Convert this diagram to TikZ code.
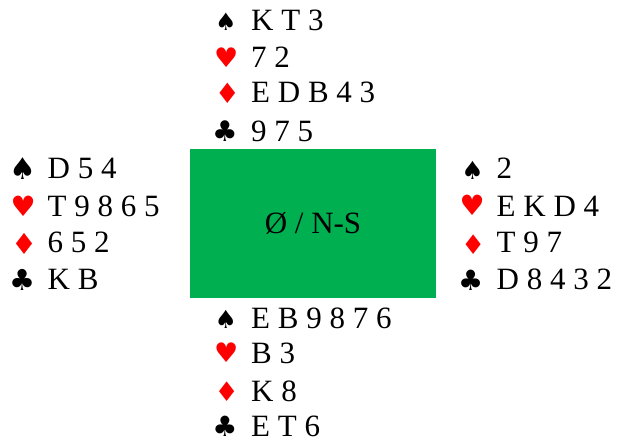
\documentclass[tikz,border=0pt]{standalone}
\usepackage{fontspec}
\setmainfont{Liberation Serif}
\newfontfamily\suitfont{DejaVu Sans}
\definecolor{boardgreen}{HTML}{00B050}
\definecolor{suitred}{HTML}{FF0000}
\newcommand\cardfont{\fontsize{31bp}{36bp}\selectfont}
\tikzset{
  board/.style={fill=boardgreen, minimum width=246bp, minimum height=149bp, inner sep=0pt, font=\cardfont},
  cards/.style={anchor=base west, inner sep=0pt, font=\cardfont},
  suit/.style={inner sep=0pt, font=\suitfont\fontsize{#1}{#1}\selectfont},
  blk/.style={suit=#1, text=black},
  rd/.style={suit=#1, text=suitred},
}
\begin{document}
\begin{tikzpicture}[x=1bp,y=-1bp]
\useasboundingbox (0,0) rectangle (617,441);
\node[board] (board) at (313,223.5) {Ø / N-S};
% North
\node[blk=24bp] (ns) at (226,21.7) {♠};
\node[rd=27bp]  (nh) at (226.3,58) {♥};
\node[rd=28bp]  (nd) at (227.5,93.3) {♦};
\node[blk=28.5bp] (nc) at (225.3,131) {♣};
\node[cards] (nsc) at (251,31) {K T 3};
\node[cards] (nhc) at (251,67.5) {7 2};
\node[cards] (ndc) at (251,103) {E D B 4 3};
\node[cards] (ncc) at (251,141.5) {9 7 5};
% West
\node[blk=30bp] (ws) at (23.3,168.8) {♠};
\node[rd=28bp]  (wh) at (23.3,206.3) {♥};
\node[rd=29bp]  (wd) at (24.5,244) {♦};
\node[blk=29bp] (wc) at (22.5,279.7) {♣};
\node[cards] (wsc) at (47.5,178.5) {D 5 4};
\node[cards] (whc) at (47.5,216.5) {T 9 8 6 5};
\node[cards] (wdc) at (47.5,253) {6 5 2};
\node[cards] (wcc) at (47.5,290) {K B};
% East
\node[blk=25bp] (es) at (472.5,170) {♠};
\node[rd=28bp]  (eh) at (472.2,205.8) {♥};
\node[rd=27bp]  (ed) at (473.3,245) {♦};
\node[blk=28bp] (ec) at (470.7,280) {♣};
\node[cards] (esc) at (496.5,178.5) {2};
\node[cards] (ehc) at (496.5,216.5) {E K D 4};
\node[cards] (edc) at (496.5,253) {T 9 7};
\node[cards] (ecc) at (496.5,290) {D 8 4 3 2};
% South
\node[blk=25bp] (ss) at (225.8,319.2) {♠};
\node[rd=27bp]  (sh) at (226.2,352.5) {♥};
\node[rd=27bp]  (sd) at (226.7,391.7) {♦};
\node[blk=28bp] (sc) at (225,426.5) {♣};
\node[cards] (ssc) at (251,328.5) {E B 9 8 7 6};
\node[cards] (shc) at (251,363.5) {B 3};
\node[cards] (sdc) at (251,401) {K 8};
\node[cards] (scc) at (251,436) {E T 6};
\end{tikzpicture}
\end{document}
